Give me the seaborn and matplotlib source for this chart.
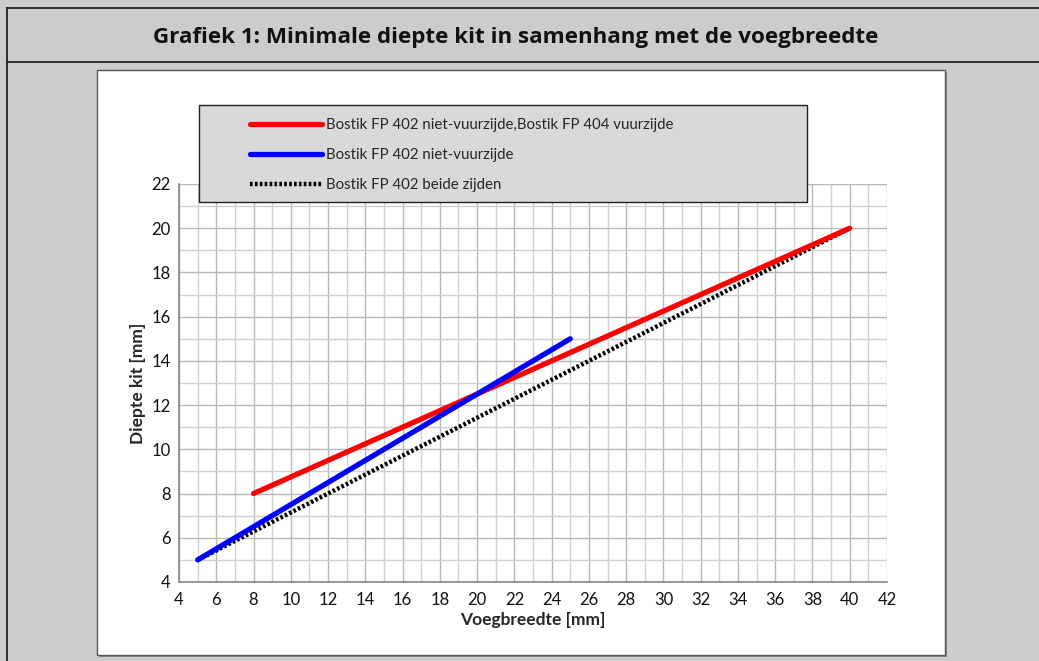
import pandas as pd
import matplotlib.pyplot as plt
import seaborn as sns
from matplotlib.patches import Rectangle
from matplotlib.lines import Line2D
from matplotlib.ticker import MultipleLocator

# --- data ---
series_names = [
    'Bostik FP 402 niet-vuurzijde,Bostik FP 404 vuurzijde',
    'Bostik FP 402 niet-vuurzijde',
    'Bostik FP 402 beide zijden',
]
x_red = [8, 40]
y_red = [8, 20]
x_blue = [5, 25]
y_blue = [5, 15]
x_black = [5, 40]
y_black = [5, 20]
x_ticks = list(range(4, 43, 2))
y_ticks = list(range(4, 23, 2))

df = pd.concat([
    pd.DataFrame({'voeg': x_red, 'diepte': y_red, 'serie': series_names[0]}),
    pd.DataFrame({'voeg': x_blue, 'diepte': y_blue, 'serie': series_names[1]}),
    pd.DataFrame({'voeg': x_black, 'diepte': y_black, 'serie': series_names[2]}),
])

sns.set_theme(style="whitegrid")
plt.rcParams['font.family'] = ['Lato', 'DejaVu Sans']

W, H = 1039, 661
fig = plt.figure(figsize=(W / 100, H / 100), dpi=100)
fig.patch.set_facecolor('#cccccc')

def fx(px):
    return px / W

def fy(py):
    return 1 - py / H

# outer frame and title bar
fig.add_artist(Line2D([fx(7), 1], [fy(8), fy(8)], color='#222222', lw=1.3, zorder=-1))
fig.add_artist(Line2D([fx(7), fx(7)], [fy(8), 0], color='#222222', lw=1.3, zorder=-1))
fig.add_artist(Line2D([fx(7), 1], [fy(62), fy(62)], color='#222222', lw=1.3, zorder=-1))
fig.text(fx(516), fy(38), 'Grafiek 1: Minimale diepte kit in samenhang met de voegbreedte',
         ha='center', va='center', fontsize=16.1, fontweight='bold', color='#111111',
         family=['Open Sans', 'DejaVu Sans'])

# white panel with shadow
fig.add_artist(Rectangle((fx(99), fy(657)), fx(848), 585 / H, transform=fig.transFigure,
                         facecolor='#888888', edgecolor='none', zorder=-2))
fig.add_artist(Rectangle((fx(97), fy(655)), fx(848), 585 / H, transform=fig.transFigure,
                         facecolor='white', edgecolor='#555555', lw=1.0, zorder=-1))

ax = fig.add_axes([fx(179), fy(582), fx(887) - fx(179), fy(184) - fy(582)])
ax.set_facecolor('white')

sns.lineplot(data=df[df['serie'] == series_names[2]], x='voeg', y='diepte', ax=ax,
             color='black', lw=3.2, zorder=3, legend=False)
ax.lines[-1].set_dashes([0.6, 0.5])
sns.lineplot(data=df[df['serie'] == series_names[0]], x='voeg', y='diepte', ax=ax,
             color='#ff0000', lw=3.8, zorder=4, legend=False)
sns.lineplot(data=df[df['serie'] == series_names[1]], x='voeg', y='diepte', ax=ax,
             color='#0000ff', lw=3.8, zorder=5, legend=False)

ax.set_xlim(4, 42)
ax.set_ylim(4, 22)
ax.set_xticks(x_ticks)
ax.set_yticks(y_ticks)
ax.xaxis.set_minor_locator(MultipleLocator(1))
ax.yaxis.set_minor_locator(MultipleLocator(1))
ax.grid(which='major', color='#b8b8b8', lw=1.0)
ax.grid(which='minor', color='#d0d0d0', lw=1.0)
ax.tick_params(axis='both', which='both', length=0, labelsize=12, colors='#111111')
ax.tick_params(axis='x', pad=7)
ax.tick_params(axis='y', pad=6)
for side in ['top', 'right']:
    ax.spines[side].set_visible(False)
for side in ['left', 'bottom']:
    ax.spines[side].set_color('#868686')
    ax.spines[side].set_linewidth(1.2)

ax.set_xlabel('Voegbreedte [mm]', fontsize=12.5, fontweight='bold', labelpad=3)
ax.set_ylabel('Diepte kit [mm]', fontsize=12.5, fontweight='bold', labelpad=4)

# legend box
fig.add_artist(Rectangle((fx(199), fy(202)), fx(608), 97 / H, transform=fig.transFigure,
                         facecolor='#d9d9d9', edgecolor='#222222', lw=1.0, zorder=6))
handles = [
    Line2D([], [], color='#ff0000', lw=3.8),
    Line2D([], [], color='#0000ff', lw=3.8),
    Line2D([], [], color='black', lw=3.2, dashes=[0.6, 0.5]),
]
leg = fig.legend(handles, series_names, loc='upper left',
                 bbox_to_anchor=(fx(236), fy(105)), frameon=False,
                 fontsize=10.8, handlelength=4.8, handletextpad=0.3,
                 labelspacing=1.05)
leg.set_zorder(7)

fig.savefig('out.png', dpi=100, facecolor=fig.get_facecolor())
